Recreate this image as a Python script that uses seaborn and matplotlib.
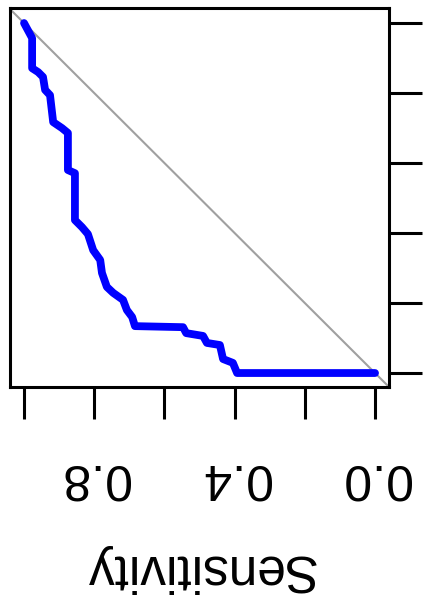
import matplotlib
matplotlib.use('Agg')
import matplotlib.pyplot as plt
import pandas as pd
import seaborn as sns

# ROC points (picture is upside down: x = sensitivity, y = specificity)
sensitivity = [1.00, 0.977, 0.977, 0.960, 0.946, 0.940, 0.926, 0.917, 0.892, 0.875,
               0.875, 0.855, 0.855, 0.835, 0.818, 0.803, 0.783, 0.778, 0.764, 0.746,
               0.718, 0.707, 0.692, 0.684, 0.547, 0.538, 0.490, 0.479, 0.442, 0.433,
               0.405, 0.393, 0.0]
specificity = [0.0, 0.043, 0.129, 0.140, 0.154, 0.191, 0.206, 0.283, 0.300, 0.314,
               0.420, 0.429, 0.563, 0.583, 0.603, 0.649, 0.677, 0.714, 0.754, 0.771,
               0.791, 0.820, 0.840, 0.866, 0.869, 0.886, 0.894, 0.914, 0.920, 0.960,
               0.971, 1.0, 1.0]
tick_values = [0.0, 0.2, 0.4, 0.6, 0.8, 1.0]
x_tick_labels = ['0.0', '', '0.4', '', '0.8', '']

sns.set_style('white')
plt.rcParams['font.family'] = ['Liberation Sans', 'DejaVu Sans']
plt.rcParams['text.color'] = 'black'
plt.rcParams['axes.labelcolor'] = 'black'
plt.rcParams['xtick.color'] = 'black'
plt.rcParams['ytick.color'] = 'black'

roc = pd.DataFrame({'sens': sensitivity, 'spec': specificity})

fig = plt.figure(figsize=(4.24, 6.07), dpi=100)
ax = fig.add_axes([0.0236, 0.3624, 0.894, 0.6244])

# chance line
ax.axline((1, 0), (0, 1), color='#a0a0a0', lw=1.5, zorder=1)
sns.lineplot(data=roc, x='sens', y='spec', sort=False, estimator=None,
             color='#0000ff', lw=5.6, solid_capstyle='round',
             solid_joinstyle='round', ax=ax, zorder=2)

ax.set_xlim(1.04, -0.04)
ax.set_ylim(1.04, -0.043)

ax.set_xticks(tick_values)
ax.set_xticklabels(x_tick_labels, rotation=180, fontsize=36)
ax.yaxis.tick_right()
ax.set_yticks(tick_values)
ax.tick_params(axis='x', bottom=True, length=23, width=2.2, pad=25,
               color='black', labelcolor='black')
ax.tick_params(axis='y', right=True, length=24, width=2.2, labelright=False,
               labelleft=False, color='black')
ax.set_xlabel('Sensitivity', rotation=180, fontsize=37, labelpad=32, color='black')
ax.set_ylabel('')

for s in ax.spines.values():
    s.set_visible(True)
    s.set_linewidth(2.2)
    s.set_color('black')

fig.savefig('out.png', dpi=100)
